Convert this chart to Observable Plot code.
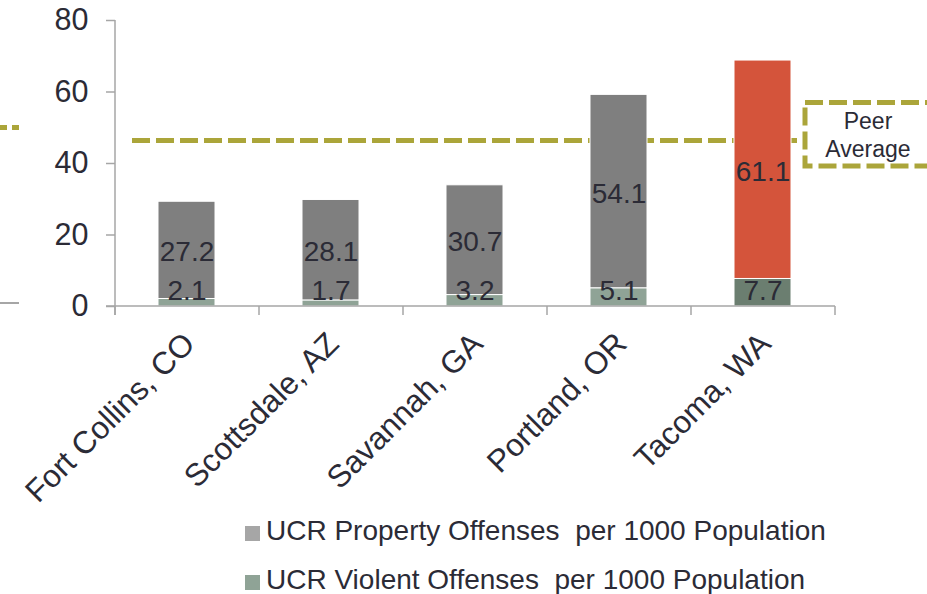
<!DOCTYPE html>
<html><head><meta charset="utf-8">
<script src="https://cdn.jsdelivr.net/npm/d3@7"></script>
<script src="https://cdn.jsdelivr.net/npm/@observablehq/plot@0.6"></script>
<style>
body{margin:0;background:#fff;font-family:"Liberation Sans",Arial,sans-serif;color:#2b2b36;}
#wrap{position:relative;width:927px;height:594px;overflow:hidden;background:#fff;}
#chart{position:absolute;left:0;top:0;}
.leg{position:absolute;left:245px;font-size:28px;line-height:32px;white-space:pre;color:#2b2b36;}
.sw{display:inline-block;width:15px;height:15px;margin-right:6px;vertical-align:-1px;}
.art{position:absolute;}
</style></head><body>
<div id="wrap">
  <div id="chart"></div>
  <div class="art" style="left:0;top:125px;width:7px;height:5px;background:#aba53a"></div>
  <div class="art" style="left:12px;top:125px;width:7px;height:5px;background:#aba53a"></div>
  <div class="art" style="left:0;top:302px;width:19px;height:2px;background:#a6a6a6"></div>
  <svg id="peer" style="position:absolute;left:800px;top:96px" width="127" height="76">
    <rect x="5" y="6.5" width="200" height="63.5" fill="none" stroke="#aba53a" stroke-width="5" stroke-dasharray="18,6"></rect>
    <text x="68" y="33" text-anchor="middle" font-size="23" fill="#2b2b36" font-family="Liberation Sans, Arial, sans-serif">Peer</text>
    <text x="68" y="61" text-anchor="middle" font-size="23" fill="#2b2b36" font-family="Liberation Sans, Arial, sans-serif">Average</text>
  </svg>
  <div class="leg" id="leg1" style="top:515px"></div>
  <div class="leg" id="leg2" style="top:564px"></div>
</div>
<script>
const cities = ["Fort Collins, CO", "Scottsdale, AZ", "Savannah, GA", "Portland, OR", "Tacoma, WA"];
const violent = [2.1, 1.7, 3.2, 5.1, 7.7];
const property = [27.2, 28.1, 30.7, 54.1, 61.1];
const peerAverage = 46.4;
const yTicks = [0, 20, 40, 60, 80];
const highlightCity = "Tacoma, WA";
const seriesNames = ["UCR Property Offenses  per 1000 Population", "UCR Violent Offenses  per 1000 Population"];

const colProperty = "#7f7f7f", colViolent = "#8fa396";
const colPropertyHi = "#d4543b", colViolentHi = "#6b7e70";
const legendCols = ["#a6a6a6", colViolent];
const axisGray = "#a6a6a6", textCol = "#2b2b36";

const data = cities.map((city, i) => ({city, violent: violent[i], property: property[i]}));

function axisLines(index, scales, values, dimensions) {
  const {x, y} = scales;
  const {width, marginLeft, marginRight} = dimensions;
  const step = (width - marginLeft - marginRight) / cities.length;
  const y0 = y(0);
  const g = d3.create("svg:g").attr("stroke", axisGray).attr("stroke-width", 1.5).attr("fill", "none");
  g.append("line").attr("x1", marginLeft).attr("x2", marginLeft).attr("y1", y(80)).attr("y2", y0 + 9);
  g.append("line").attr("x1", marginLeft - 9).attr("x2", width - marginRight).attr("y1", y0).attr("y2", y0);
  const bounds = cities.map(c => x(c)).concat([x(cities[cities.length - 1]) + step]);
  for (const b of bounds) g.append("line").attr("x1", b).attr("x2", b).attr("y1", y0).attr("y2", y0 + 9);
  return g.node();
}

const chart = Plot.plot({
  width: 927, height: 510,
  marginLeft: 115, marginRight: 92, marginTop: 20, marginBottom: 204,
  style: {fontFamily: "Liberation Sans, Arial, sans-serif", color: textCol, background: "white", overflow: "visible"},
  x: {domain: cities, padding: 0, label: null},
  y: {domain: [0, 80], label: null},
  marks: [
    Plot.ruleY([peerAverage], {stroke: "#aba53a", strokeWidth: 5, strokeDasharray: "18,6", insetLeft: 17, insetRight: 38}),
    Plot.barY(data, {x: "city", y1: 0, y2: "violent",
      fill: d => d.city === highlightCity ? colViolentHi : colViolent,
      stroke: "white", strokeWidth: 1, insetLeft: 43, insetRight: 44}),
    Plot.barY(data, {x: "city", y1: "violent", y2: d => d.violent + d.property,
      fill: d => d.city === highlightCity ? colPropertyHi : colProperty,
      stroke: "white", strokeWidth: 1, insetLeft: 43, insetRight: 44}),
    axisLines,
    Plot.axisY({ticks: yTicks, tickSize: 9, tickPadding: 18, fontSize: 30.5, stroke: axisGray, fill: textCol, label: null, strokeWidth: 1.5}),
    Plot.axisX({tickSize: 0, tickRotate: -45, fontSize: 31.5, tickPadding: 32, dx: 2, fill: textCol, label: null}),
    Plot.text(data, {x: "city", y: d => d.violent + d.property / 2, text: d => d.property.toFixed(1), fontSize: 28, fill: textCol, dx: -0.5, dy: 2}),
    Plot.text(data, {x: "city", y: d => Math.max(d.violent / 2, 4.2), text: d => d.violent.toFixed(1), fontSize: 28, fill: textCol, dx: -0.5})
  ]
});
document.getElementById("chart").appendChild(chart);

["leg1", "leg2"].forEach((id, i) => {
  const el = document.getElementById(id);
  const sw = document.createElement("span");
  sw.className = "sw"; sw.style.background = legendCols[i];
  el.appendChild(sw);
  el.appendChild(document.createTextNode(seriesNames[i]));
});
</script>
</body></html>
